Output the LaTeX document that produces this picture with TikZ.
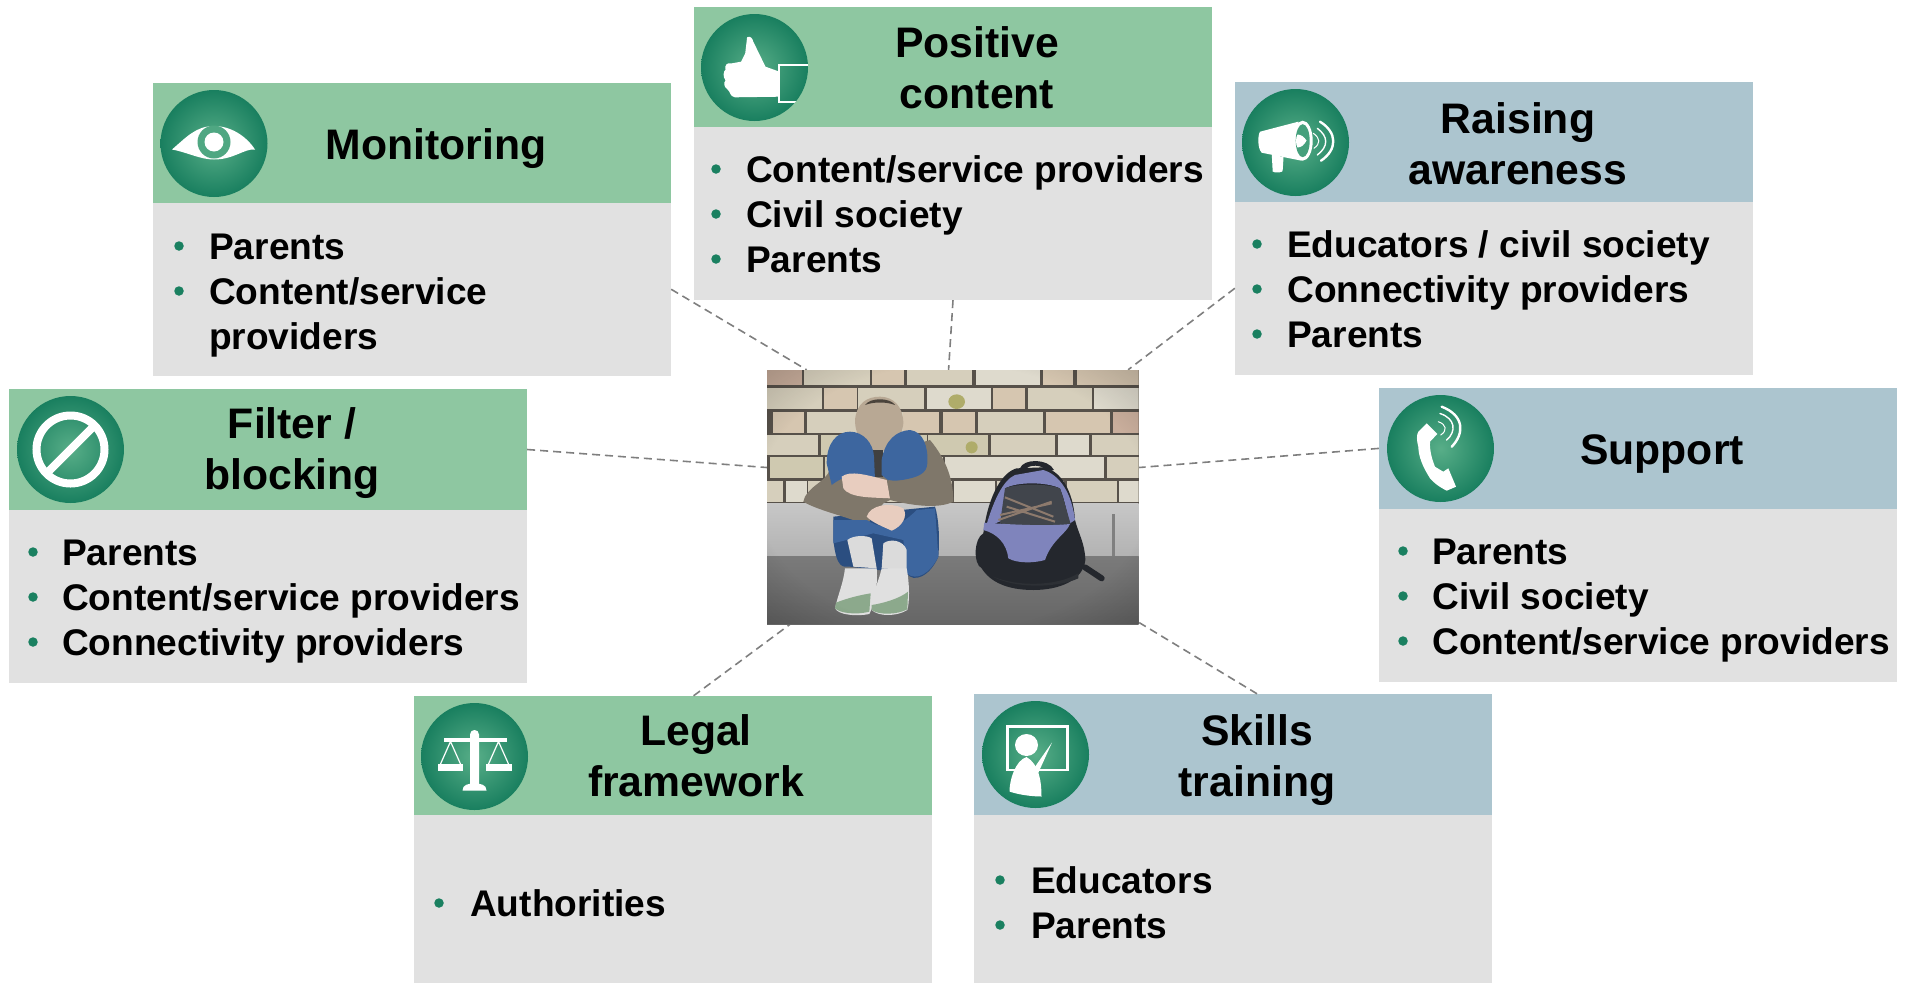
\documentclass[tikz,border=0pt]{standalone}
\usepackage{fontspec}
\setmainfont{Liberation Sans}
\usetikzlibrary{fadings}
\definecolor{hdgreen}{HTML}{8EC7A1}
\definecolor{hdblue}{HTML}{ACC5CF}
\definecolor{bodygrey}{HTML}{E1E1E1}
\definecolor{dotgreen}{HTML}{1A8060}
\definecolor{icondark}{HTML}{197F5F}
\definecolor{iconlight}{HTML}{58AE88}
\definecolor{linkgrey}{HTML}{7F7F7F}
\definecolor{mortar}{HTML}{57514A}
\definecolor{brA}{HTML}{D6CFBC}
\definecolor{brB}{HTML}{D6C6B0}
\definecolor{brC}{HTML}{C9AE9C}
\definecolor{brD}{HTML}{DEDACD}
\definecolor{brE}{HTML}{CFC9B0}
\definecolor{jeans}{HTML}{3D669F}
\definecolor{jeansdark}{HTML}{2B4E80}
\definecolor{sweater}{HTML}{7F776A}
\definecolor{skin}{HTML}{E8CDBF}
\definecolor{hair}{HTML}{B8A894}
\definecolor{packdark}{HTML}{24272D}
\definecolor{packblue}{HTML}{7F84BC}
\definecolor{packgrey}{HTML}{41454C}
\pgfdeclareradialshading{vigshade}{\pgfpoint{0bp}{0bp}}{color(0bp)=(black); color(26bp)=(black); color(50bp)=(black!58!white); color(72bp)=(black!15!white); color(100bp)=(black!15!white)}
\pgfdeclarefading{vignette}{\pgfuseshading{vigshade}}
\tikzset{
  x=1pt,y=-1pt,
  hdrbox/.style={inner sep=0pt,minimum width=518pt,minimum height=120pt},
  hdrgreen/.style={hdrbox,fill=hdgreen},
  hdrblue/.style={hdrbox,fill=hdblue},
  bodybox/.style={inner sep=0pt,minimum width=518pt,fill=bodygrey},
  iconc/.style={circle,inner sep=0pt,minimum size=107pt,inner color=iconlight,outer color=icondark},
  hdrtxt/.style={inner sep=0pt,anchor=center,align=center,font=\fontsize{42.7}{51}\selectfont\bfseries},
  itemtxt/.style={inner sep=0pt,anchor=base west,font=\fontsize{37.1}{45}\selectfont\bfseries},
  bul/.style={circle,fill=dotgreen,inner sep=0pt,minimum size=9.5pt},
  link/.style={draw=linkgrey,line width=1.6pt,dash pattern=on 8pt off 5pt},
  whtline/.style={draw=white,fill=none,line cap=round},
}
\newcommand{\li}[5]{\node[bul] (#1b) at (#2,#4-13) {}; \node[itemtxt] (#1) at (#3,#4) {#5};}
\newcommand{\brow}[3]{\foreach \a/\b/\c in {#3}{\fill[\c] (\a,#1) rectangle (\b,#2);}}
\begin{document}
\begin{tikzpicture}
\useasboundingbox (0,0) rectangle (1908,983);
% boxes
\node[hdrgreen] (monh) at (412,143) {};
\node[bodybox,minimum height=172.5pt] (monb) at (412,289.3) {};
\node[hdrgreen] (posh) at (953,67) {};
\node[bodybox,minimum height=173pt] (posb) at (953,213.5) {};
\node[hdrblue] (raih) at (1494,141.8) {};
\node[bodybox,minimum height=173pt] (raib) at (1494,288.3) {};
\node[hdrgreen,minimum height=121pt] (filh) at (268,449.5) {};
\node[bodybox,minimum height=173pt] (filb) at (268,596.5) {};
\node[hdrblue,minimum height=121pt] (suph) at (1638,448.4) {};
\node[bodybox,minimum height=173pt] (supb) at (1638,595.5) {};
\node[hdrgreen,minimum height=119pt] (legh) at (673,755.5) {};
\node[bodybox,minimum height=168pt] (legb) at (673,899) {};
\node[hdrblue,minimum height=121pt] (skih) at (1232.5,754.5) {};
\node[bodybox,minimum height=168pt] (skib) at (1232.5,899) {};
\node[inner sep=0pt,minimum width=372pt,minimum height=254pt,fill=mortar] (pic) at (953,497) {};
% connectors
\draw[link] (monb.east) -- (pic.139);
\draw[link] (posb.south) -- (pic.92);
\draw[link] (raib.west) -- (pic.36);
\draw[link] (filh.east) -- (pic.171);
\draw[link] (suph.west) -- (pic.9);
\draw[link] (legh.71) -- (pic.218);
\draw[link] (skih.68) -- (pic.-34);
% header text
\node[hdrtxt] (mont) at (436,149) {Monitoring};
\node[hdrtxt] (post) at (977,68) {Positive\\content};
\node[hdrtxt] (rait) at (1518,144) {Raising\\awareness};
\node[hdrtxt] (filt) at (292,453) {Filter /\\blocking};
\node[hdrtxt] (supt) at (1662,454) {Support};
\node[hdrtxt] (legt) at (696,755.5) {Legal\\framework};
\node[hdrtxt] (skit) at (1257,760) {Skills\\training};
% lists
\li{m1}{179}{209}{259}{Parents}
\li{m2}{179}{209}{304}{Content/service}
\node[itemtxt] (m3) at (209,349) {providers};
\li{p1}{716}{746}{182}{Content/service providers}
\li{p2}{716}{746}{227}{Civil society}
\li{p3}{716}{746}{272}{Parents}
\li{r1}{1257}{1287}{257}{Educators / civil society}
\li{r2}{1257}{1287}{302}{Connectivity providers}
\li{r3}{1257}{1287}{347}{Parents}
\li{f1}{33}{62}{565}{Parents}
\li{f2}{33}{62}{610}{Content/service providers}
\li{f3}{33}{62}{655}{Connectivity providers}
\li{s1}{1403}{1432}{564}{Parents}
\li{s2}{1403}{1432}{609}{Civil society}
\li{s3}{1403}{1432}{654}{Content/service providers}
\li{l1}{439}{470}{916}{Authorities}
\li{k1}{1000}{1031}{893}{Educators}
\li{k2}{1000}{1031}{938}{Parents}
% icon discs
\node[iconc] (ieye) at (214,143.5) {};
\node[iconc] (iban) at (70.5,449.5) {};
\node[iconc] (ithu) at (754.5,67.5) {};
\node[iconc] (imeg) at (1295.5,142.5) {};
\node[iconc] (ipho) at (1440.5,448.5) {};
\node[iconc] (isca) at (474.5,756.5) {};
\node[iconc] (itea) at (1035.5,754.5) {};
% eye
\begin{scope}[shift={(214,143.5)}]
\fill[white] (-42,6) .. controls (-28,-6) and (-18,-17.5) .. (0,-17.5) .. controls (16,-17.5) and (32,-8) .. (41,6) .. controls (30,5) and (20,16) .. (0,16) .. controls (-14,16) and (-26,9) .. (-42,6) -- cycle;
\fill[iconlight!85!icondark] (0,-1.5) circle (16.5);
\fill[white] (0,-1.5) circle (9.5);
\end{scope}
% prohibition sign
\begin{scope}[shift={(70.5,449.5)}]
\draw[white,line width=8pt] (0,0) circle (34);
\draw[white,line width=8pt] (-24,24) -- (24,-24);
\end{scope}
% thumb
\begin{scope}[shift={(754.5,67.5)}]
\clip (0,0) circle (53.5);
\fill[white] (-7.4,-30.2) .. controls (-4,-32) and (-2,-29) .. (-1.2,-25.8) -- (11,-0.8) -- (24.5,4) -- (24.5,29.2) -- (-19.6,29.8) .. controls (-25,29) and (-24,24) .. (-27,22) .. controls (-31,19) and (-31,15) .. (-29,13) .. controls (-32,9) and (-31,4) .. (-29,2) .. controls (-30,-3) and (-27,-5) .. (-23.7,-4) -- (-13.4,-5.8) -- (-9.3,-14) -- cycle;
\draw[white,line width=2pt] (24.5,-2.5) rectangle (60,34);
\end{scope}
% megaphone
\begin{scope}[shift={(1295.5,142.5)}]
\fill[white] (-35.5,-10.8) -- (2.8,-20.8) -- (6.2,18.2) -- (-33.8,10.2) .. controls (-38,6) and (-38,-7) .. (-35.5,-10.8) -- cycle;
\fill[white] (-23.8,10.8) -- (-12,15) -- (-12.8,27.5) .. controls (-11,30) and (-21,31) .. (-22.8,29) -- cycle;
\fill[white] (7.2,-1.8) ellipse [x radius=10,y radius=20];
\fill[iconlight!70!icondark] (7.2,-1.8) ellipse [x radius=7,y radius=16.5];
\fill[white] (2,-8) .. controls (6,-8) and (9,-5) .. (11,-2) .. controls (9,2) and (6,5) .. (2,5) .. controls (0,2) and (0,-5) .. (2,-8) -- cycle;
\draw[whtline,line width=1pt] (17.8,-9.2) .. controls (25,-4) and (25,1) .. (18.5,5.8);
\draw[whtline,line width=1.4pt] (21.8,-14.2) .. controls (33,-6) and (33,4) .. (21.8,12.5);
\draw[whtline,line width=2.4pt] (24.5,-20.8) .. controls (42,-10) and (42,7) .. (25.5,18.2);
\end{scope}
% phone
\begin{scope}[shift={(1440.5,448.5)}]
\fill[white] (-13.8,-25.2) -- (-3.2,-14.5) -- (-10.5,-6.8) .. controls (-11,3) and (-8,12) .. (-5.5,18.2) -- (2.8,23.2) -- (7.8,19.8) -- (15.5,38.2) -- (6.2,42.2) .. controls (-2,38) and (-7,34) .. (-10.5,29.8) .. controls (-18,18) and (-22,8) .. (-22.2,-1.8) .. controls (-24,-8) and (-24,-14) .. (-22.2,-16.8) -- cycle;
\draw[whtline,line width=2.4pt] (1.2,-41.8) .. controls (24,-33) and (24,-15) .. (11.2,-1.8);
\draw[whtline,line width=1.4pt] (-.5,-35) .. controls (15,-30) and (16,-17) .. (6.2,-8.5);
\draw[whtline,line width=1pt] (-2.2,-26.8) .. controls (6,-24) and (7,-18) .. (.2,-13.5);
\end{scope}
% scales
\begin{scope}[shift={(474.5,756.5)}]
\fill[white] (-31,-19) rectangle (32,-15);
\fill[white] (-4.5,-22) .. controls (-4.5,-28) and (4.5,-28) .. (4.5,-22) -- (4.5,29) -- (-4.5,29) -- cycle;
\fill[white] (-12,34) .. controls (-12,28) and (-6,27) .. (0,27) .. controls (6,27) and (12,28) .. (12,34) -- cycle;
\fill[white] (-37,7.5) rectangle (-11.5,14);
\fill[white] (11.5,7.5) rectangle (37,14);
\draw[white,line width=1.2pt] (-34,7.5) -- (-24,-15) -- (-14,7.5);
\draw[white,line width=1.2pt] (14,7.5) -- (24,-15) -- (34,7.5);
\end{scope}
% teacher
\begin{scope}[shift={(1035.5,754.5)}]
\draw[white,line width=2.4pt] (-28,-28) rectangle (32,15.5);
\fill[white] (-9,-9.5) ellipse [x radius=11.5,y radius=11];
\fill[white] (-9,2.5) .. controls (-20,6) and (-26,25) .. (-26,37) .. controls (-18,40) and (-4,42) .. (6,42) .. controls (6,28) and (4,10) .. (-9,2.5) -- cycle;
\fill[white] (16.5,-12) -- (2,20) -- (-1,13) -- cycle;
\end{scope}
% photograph
\begin{scope}[shift={(750,360)},x=0.33333pt,y=-0.33333pt]
\clip (51,30) rectangle (1166,792);
\brow{30}{75}{51/155/brC,162/360/brA,367/462/brB,472/667/brA,677/870/brD,878/970/brB,980/1166/brB}
\brow{83}{148}{51/215/brA,222/320/brB,325/522/brA,530/722/brD,730/825/brB,833/1025/brA,1033/1166/brD}
\brow{155}{220}{68/162/brB,170/315/brA,315/460/brA,460/568/brB,578/675/brB,685/878/brA,887/1080/brB,1088/1166/brC}
\brow{225}{285}{51/205/brA,213/530/brE,535/715/brE,722/915/brA,925/1018/brD,1027/1166/brA}
\brow{292}{355}{60/220/brE,225/578/brE,585/1062/brD,1072/1166/brA}
\brow{362}{425}{51/100/brA,108/170/brD,175/605/brA,612/735/brD,742/943/brA,950/1100/brA,1108/1166/brD}
\fill[brE!60!olive] (620,125) ellipse [x radius=25,y radius=22];
\fill[brE!60!olive] (665,262) ellipse [x radius=18,y radius=18];
% concrete and ground
\shade[top color=black!22,bottom color=black!30] (51,430) rectangle (1166,590);
\fill[black!50] (1085,462) rectangle (1095,600);
\shade[top color=black!52,bottom color=black!60] (51,590) rectangle (1166,792);
% backpack
\draw[packdark,line width=6pt,line cap=round] (1005,622) -- (1055,655);
\fill[packdark] (810,325) .. controls (820,295) and (895,295) .. (912,330) -- (890,335) .. controls (880,312) and (835,312) .. (825,330) -- cycle;
\fill[packdark] (800,325) .. controls (760,335) and (715,400) .. (700,520) .. controls (672,535) and (668,610) .. (695,625) .. controls (720,665) and (770,690) .. (850,690) .. controls (930,690) and (1000,660) .. (1006,600) .. controls (1005,550) and (985,520) .. (975,480) .. controls (970,390) and (930,330) .. (880,322) -- cycle;
\fill[packblue] (795,345) .. controls (760,360) and (730,420) .. (705,510) .. controls (730,495) and (745,480) .. (760,485) -- (765,385) .. controls (800,365) and (890,365) .. (930,385) .. controls (945,420) and (950,460) .. (960,490) -- (975,480) .. controls (965,400) and (930,345) .. (880,330) -- cycle;
\fill[packgrey] (765,385) .. controls (800,370) and (890,370) .. (930,385) .. controls (945,430) and (955,470) .. (962,492) .. controls (900,498) and (800,500) .. (750,490) -- cycle;
\fill[packblue] (703,488) .. controls (760,492) and (880,500) .. (960,492) .. controls (950,520) and (905,540) .. (885,600) .. controls (850,610) and (800,610) .. (775,595) .. controls (770,550) and (740,520) .. (700,510) -- cycle;
\draw[brC!70!black,line width=2pt] (765,412) -- (910,470) (905,430) -- (750,465) (770,440) -- (915,485) (745,480) -- (905,425);
\fill[packgrey!70!black] (730,650) .. controls (800,680) and (920,680) .. (985,640) -- (985,655) .. controls (920,685) and (790,685) .. (730,650) -- cycle;
% boy: jeans, sweater, head
\fill[jeansdark] (250,540) .. controls (260,630) and (280,620) .. (300,620) -- (470,640) .. controls (490,670) and (540,650) .. (565,590) .. controls (570,530) and (565,470) .. (555,440) -- (250,470) -- cycle;
\fill[sweater] (165,410) .. controls (190,370) and (220,370) .. (240,330) -- (540,240) .. controls (590,300) and (610,360) .. (610,425) .. controls (570,445) and (500,440) .. (420,420) -- (400,430) -- (350,495) .. controls (290,470) and (200,450) .. (160,425) -- cycle;
\fill[hair] (315,180) .. controls (320,130) and (350,110) .. (390,110) .. controls (430,110) and (460,140) .. (460,190) .. controls (455,240) and (420,275) .. (385,275) .. controls (345,270) and (315,230) .. (315,180) -- cycle;
\fill[black!60!hair] (345,135) .. controls (360,112) and (420,112) .. (435,135) .. controls (410,125) and (370,125) .. (345,135) -- cycle;
\fill[black!75] (370,270) rectangle (398,350);
\fill[jeans] (230,310) .. controls (230,250) and (260,215) .. (300,215) .. controls (340,215) and (370,250) .. (372,290) -- (375,360) .. controls (340,335) and (290,340) .. (245,375) -- cycle;
\fill[jeans] (395,300) .. controls (405,240) and (440,212) .. (480,210) .. controls (520,215) and (535,260) .. (532,310) .. controls (530,340) and (510,355) .. (420,365) -- (395,345) -- cycle;
\fill[skin] (275,350) .. controls (300,330) and (350,345) .. (410,360) -- (420,415) .. controls (370,412) and (300,415) .. (280,385) -- cycle;
\fill[sweater] (415,360) .. controls (470,370) and (530,340) .. (560,340) -- (610,425) .. controls (550,445) and (480,435) .. (420,415) -- cycle;
\fill[jeans] (250,480) -- (350,480) .. controls (400,510) and (440,510) .. (500,450) -- (555,445) -- (565,590) .. controls (540,640) and (500,665) .. (470,640) -- (460,540) -- (370,520) -- (250,550) -- cycle;
\fill[skin] (350,470) .. controls (360,435) and (420,425) .. (460,445) .. controls (475,470) and (455,500) .. (425,512) .. controls (400,500) and (370,490) .. (350,470) -- cycle;
% socks and shoes
\fill[black!14] (292,540) .. controls (310,525) and (350,525) .. (365,535) -- (380,625) -- (310,620) -- cycle;
\fill[black!14] (400,550) .. controls (420,535) and (460,540) .. (470,570) -- (470,630) -- (395,625) -- cycle;
\fill[black!12] (285,625) -- (380,625) .. controls (385,680) and (370,740) .. (358,762) .. controls (320,770) and (265,765) .. (255,745) .. controls (265,700) and (280,670) .. (285,625) -- cycle;
\fill[black!12] (395,625) -- (470,625) .. controls (480,680) and (478,730) .. (472,750) .. controls (440,770) and (385,770) .. (365,750) .. controls (365,700) and (385,670) .. (395,625) -- cycle;
\fill[green!25!black!45] (258,728) .. controls (290,715) and (330,705) .. (362,700) -- (358,755) .. controls (320,765) and (270,760) .. (255,745) -- cycle;
\fill[green!25!black!45] (365,735) .. controls (400,730) and (450,715) .. (474,695) -- (472,748) .. controls (440,765) and (385,765) .. (365,750) -- cycle;
% vignette
\fill[black,path fading=vignette] (51,30) rectangle (1166,792);
\end{scope}
\end{tikzpicture}
\end{document}
